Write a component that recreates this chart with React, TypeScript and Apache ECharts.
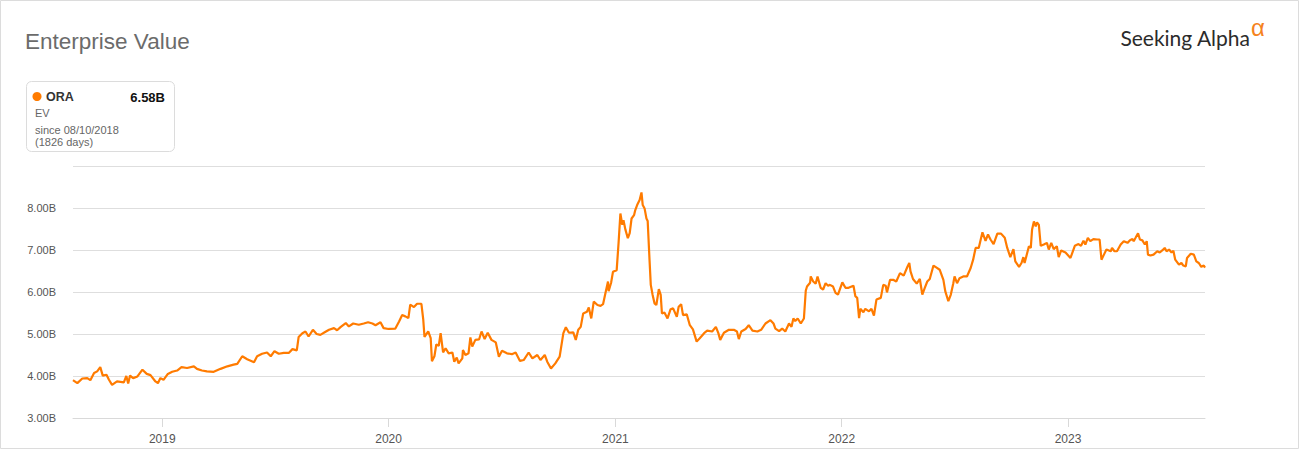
import React, { useEffect, useRef } from "react";
import * as echarts from "echarts";

// Days since 08/10/2018 and Enterprise Value in billions
const DAYS = [
  0, 1, 7, 15, 23, 28, 34, 39, 44, 48, 54, 58, 63, 71, 82, 86, 89, 92, 97, 104, 112, 119, 125, 133, 137, 141, 146,
  153, 160, 168, 175, 184, 195, 200, 208, 216, 227, 238, 249, 259, 265, 273, 281, 292, 297, 305, 313, 319, 325, 332,
  340, 348, 354, 361, 364, 370, 375, 380, 387, 393, 399, 406, 413, 421, 426, 432, 440, 445, 452, 461, 469, 476, 483,
  488, 496, 501, 509, 520, 526, 531, 536, 541, 544, 550, 555, 562, 565, 567, 573, 577, 579, 583, 586, 590, 593, 597,
  601, 606, 612, 615, 619, 622, 628, 629, 633, 638, 641, 644, 649, 655, 659, 664, 669, 675, 682, 687, 692, 700, 708,
  714, 721, 727, 735, 741, 749, 754, 761, 765, 771, 778, 785, 791, 795, 800, 807, 811, 815, 819, 823, 829, 832, 836,
  840, 846, 851, 855, 859, 863, 864, 868, 871, 877, 880, 883, 886, 888, 891, 895, 898, 901, 905, 907, 910, 914, 917,
  919, 922, 925, 927, 930, 932, 935, 938, 941, 945, 948, 950, 954, 959, 964, 968, 974, 977, 981, 984, 990, 995, 1000,
  1006, 1011, 1018, 1023, 1031, 1037, 1041, 1044, 1050, 1058, 1066, 1071, 1074, 1078, 1085, 1090, 1096, 1104, 1110,
  1117, 1125, 1130, 1133, 1139, 1144, 1149, 1155, 1159, 1162, 1165, 1169, 1174, 1179, 1182, 1184, 1189, 1190, 1194,
  1198, 1201, 1206, 1210, 1214, 1218, 1221, 1226, 1230, 1234, 1241, 1246, 1251, 1259, 1262, 1265, 1268, 1270, 1275,
  1278, 1284, 1288, 1292, 1296, 1303, 1307, 1311, 1313, 1318, 1323, 1328, 1334, 1340, 1346, 1349, 1351, 1355, 1361,
  1366, 1370, 1374, 1378, 1382, 1388, 1393, 1398, 1404, 1407, 1412, 1416, 1420, 1422, 1426, 1430, 1436, 1442, 1448,
  1452, 1456, 1461, 1467, 1472, 1476, 1480, 1485, 1491, 1497, 1503, 1507, 1512, 1517, 1520, 1526, 1530, 1533, 1535,
  1542, 1545, 1547, 1550, 1553, 1555, 1558, 1561, 1566, 1571, 1574, 1578, 1582, 1587, 1590, 1594, 1601, 1609, 1616,
  1622, 1626, 1630, 1633, 1637, 1641, 1646, 1652, 1656, 1659, 1663, 1667, 1674, 1676, 1680, 1684, 1690, 1695, 1701,
  1705, 1709, 1711, 1714, 1718, 1721, 1725, 1729, 1732, 1734, 1738, 1743, 1749, 1753, 1757, 1761, 1764, 1768, 1772,
  1775, 1778, 1784, 1788, 1791, 1795, 1797, 1803, 1808, 1812, 1816, 1820, 1824, 1826,
];
const EV = [
  3.9, 3.89, 3.83, 3.94, 3.95, 3.9, 4.07, 4.11, 4.21, 4.01, 4.03, 3.91, 3.79, 3.87, 3.85, 4.0, 3.82, 4.01, 3.95, 3.99,
  4.15, 4.05, 4.02, 3.87, 3.83, 3.95, 3.91, 4.05, 4.1, 4.13, 4.21, 4.19, 4.23, 4.17, 4.13, 4.11, 4.1, 4.17, 4.23,
  4.27, 4.29, 4.47, 4.4, 4.33, 4.47, 4.53, 4.56, 4.47, 4.59, 4.53, 4.55, 4.55, 4.64, 4.61, 4.93, 5.02, 5.06, 4.94,
  5.1, 5.0, 4.98, 5.04, 5.1, 5.14, 5.09, 5.17, 5.26, 5.18, 5.25, 5.22, 5.25, 5.28, 5.25, 5.21, 5.28, 5.14, 5.12,
  5.13, 5.3, 5.45, 5.42, 5.38, 5.7, 5.64, 5.72, 5.72, 5.34, 4.93, 5.06, 4.9, 4.35, 4.47, 4.75, 4.72, 5.02, 4.56,
  4.66, 4.54, 4.56, 4.34, 4.44, 4.3, 4.42, 4.62, 4.5, 4.54, 4.92, 4.7, 4.86, 4.87, 5.06, 4.88, 5.03, 4.86, 4.8,
  4.46, 4.6, 4.54, 4.52, 4.56, 4.36, 4.38, 4.56, 4.42, 4.5, 4.38, 4.5, 4.34, 4.18, 4.3, 4.46, 5.02, 5.16, 5.03,
  5.04, 4.86, 5.1, 5.17, 5.49, 5.53, 5.63, 5.37, 5.77, 5.69, 5.67, 5.71, 5.98, 6.25, 6.02, 6.22, 6.48, 6.52, 7.16,
  7.87, 7.6, 7.71, 7.49, 7.28, 7.4, 7.75, 7.83, 7.95, 8.07, 8.19, 8.37, 8.07, 7.99, 7.75, 7.69, 6.76, 6.17, 5.93,
  5.73, 5.69, 6.07, 5.93, 5.49, 5.51, 5.37, 5.59, 5.61, 5.41, 5.65, 5.71, 5.45, 5.47, 5.21, 5.11, 4.82, 4.9, 5.02,
  5.08, 5.06, 5.17, 5.02, 4.86, 5.03, 5.1, 5.1, 5.06, 4.88, 5.06, 5.12, 5.21, 5.08, 5.06, 5.1, 5.25, 5.33, 5.25,
  5.13, 5.07, 5.13, 5.06, 5.25, 5.17, 5.37, 5.31, 5.37, 5.25, 5.37, 6.03, 6.13, 6.22, 6.37, 6.25, 6.2, 6.37, 6.1,
  6.06, 6.21, 6.15, 6.17, 6.13, 5.98, 5.94, 6.23, 6.1, 6.1, 6.15, 5.9, 5.86, 5.38, 5.6, 5.52, 5.6, 5.54, 5.6, 5.44,
  5.82, 5.86, 6.17, 6.15, 5.99, 6.29, 6.29, 6.25, 6.45, 6.39, 6.6, 6.69, 6.49, 6.31, 6.2, 6.31, 5.94, 6.1, 6.25,
  6.31, 6.63, 6.58, 6.53, 6.29, 6.02, 5.78, 5.94, 6.21, 6.37, 6.21, 6.33, 6.37, 6.37, 6.57, 6.77, 7.05, 7.05, 7.42,
  7.22, 7.37, 7.25, 7.14, 7.39, 7.39, 7.29, 7.05, 6.83, 7.02, 6.73, 6.6, 6.69, 6.83, 6.69, 7.09, 7.05, 7.48, 7.68,
  7.56, 7.66, 7.6, 7.1, 7.13, 7.17, 7.01, 7.17, 7.02, 7.09, 6.83, 6.99, 6.94, 6.81, 7.1, 7.14, 7.1, 7.22, 7.13,
  7.29, 7.21, 7.26, 7.25, 7.25, 6.77, 6.89, 7.01, 6.97, 7.05, 6.97, 6.97, 7.13, 7.21, 7.17, 7.23, 7.26, 7.21, 7.29,
  7.4, 7.25, 7.23, 7.13, 7.21, 6.89, 6.87, 6.89, 6.97, 6.94, 6.99, 7.05, 6.97, 7.01, 6.94, 6.98, 6.77, 6.65, 6.69,
  6.63, 6.61, 6.81, 6.91, 6.89, 6.73, 6.69, 6.6, 6.63, 6.58,
];
const YEAR_FORMAT = "{yyyy}";
const TITLE = "Enterprise Value";
const TICKER = "ORA";
const LAST_VALUE = "6.58B";
const METRIC = "EV";
const SINCE = "since 08/10/2018";
const SPAN = "(1826 days)";

const DAY = 24 * 3600 * 1000;
const START = new Date(2018, 7, 10).getTime();
const TOTAL_DAYS = 1826;
const ORANGE = "#ff7b00";
const FONT = "'Liberation Sans', Arial, sans-serif";

export default function App() {
  const ref = useRef<HTMLDivElement>(null);
  useEffect(() => {
    document.body.style.margin = "0";
    if (!ref.current) return;
    const chart = echarts.init(ref.current, null, { renderer: "svg" });
    const data = DAYS.map((d, i) => [START + d * DAY, EV[i]]);
    chart.setOption({
      animation: false,
      backgroundColor: "#fff",
      grid: { left: 73, right: 95, top: 166, bottom: 32, containLabel: false },
      xAxis: {
        type: "time",
        min: START,
        max: START + TOTAL_DAYS * DAY,
        minInterval: 360 * DAY,
        axisLine: { show: true, lineStyle: { color: "#d9d9d9", width: 1 } },
        axisTick: { show: true, length: 9, lineStyle: { color: "#d9d9d9" } },
        axisLabel: {
          formatter: YEAR_FORMAT,
          color: "#555",
          fontSize: 12,
          fontFamily: FONT,
          margin: 15,
          showMinLabel: false,
          showMaxLabel: false,
          fontWeight: "normal",
        },
        splitLine: { show: false },
      },
      yAxis: {
        type: "value",
        min: 3,
        max: 9,
        interval: 1,
        axisLine: { show: false },
        axisTick: { show: false },
        axisLabel: {
          formatter: (v: number) => v.toFixed(2) + "B",
          color: "#555",
          fontSize: 11,
          fontFamily: FONT,
          margin: 17,
          showMaxLabel: false,
        },
        splitLine: { show: true, lineStyle: { color: "#dedede", width: 1 } },
      },
      series: [
        {
          type: "line",
          data,
          showSymbol: false,
          symbol: "none",
          lineStyle: { color: ORANGE, width: 2.2 },
          itemStyle: { color: ORANGE },
        },
      ],
      graphic: [
        {
          type: "rect",
          shape: { x: 0.5, y: 0.5, width: 1298, height: 448 },
          style: { fill: "none", stroke: "#dcdcdc", lineWidth: 1 },
          silent: true,
        },
        {
          type: "text",
          style: { text: TITLE, x: 25, y: 41, font: `22.5px ${FONT}`, fill: "#6b6b6b", textVerticalAlign: "middle" },
        },
        {
          type: "text",
          style: {
            text: "Seeking Alpha",
            x: 1250,
            y: 37,
            font: `21px Lato, ${FONT}`,
            fill: "#2b2b2b",
            textAlign: "right",
            textVerticalAlign: "middle",
          },
        },
        {
          type: "text",
          style: { text: "α", x: 1251, y: 27, font: `24px ${FONT}`, fill: "#f58220", textVerticalAlign: "middle" },
        },
        {
          type: "rect",
          shape: { x: 26.5, y: 81.5, width: 148, height: 70, r: 5 },
          style: { fill: "#fff", stroke: "#dcdcdc", lineWidth: 1 },
        },
        { type: "circle", shape: { cx: 37, cy: 96.5, r: 4.5 }, style: { fill: ORANGE } },
        {
          type: "text",
          style: { text: TICKER, x: 46, y: 97, font: `bold 12.5px ${FONT}`, fill: "#333", textVerticalAlign: "middle" },
        },
        {
          type: "text",
          style: {
            text: LAST_VALUE,
            x: 165,
            y: 97,
            font: `bold 13px ${FONT}`,
            fill: "#111",
            textAlign: "right",
            textVerticalAlign: "middle",
          },
        },
        {
          type: "text",
          style: { text: METRIC, x: 35, y: 113, font: `11px ${FONT}`, fill: "#666", textVerticalAlign: "middle" },
        },
        {
          type: "text",
          style: { text: SINCE, x: 35, y: 130, font: `11px ${FONT}`, fill: "#666", textVerticalAlign: "middle" },
        },
        {
          type: "text",
          style: { text: SPAN, x: 35, y: 142, font: `11px ${FONT}`, fill: "#666", textVerticalAlign: "middle" },
        },
      ],
    });
    return () => chart.dispose();
  }, []);
  return <div ref={ref} style={{ width: 1300, height: 450 }} />;
}
